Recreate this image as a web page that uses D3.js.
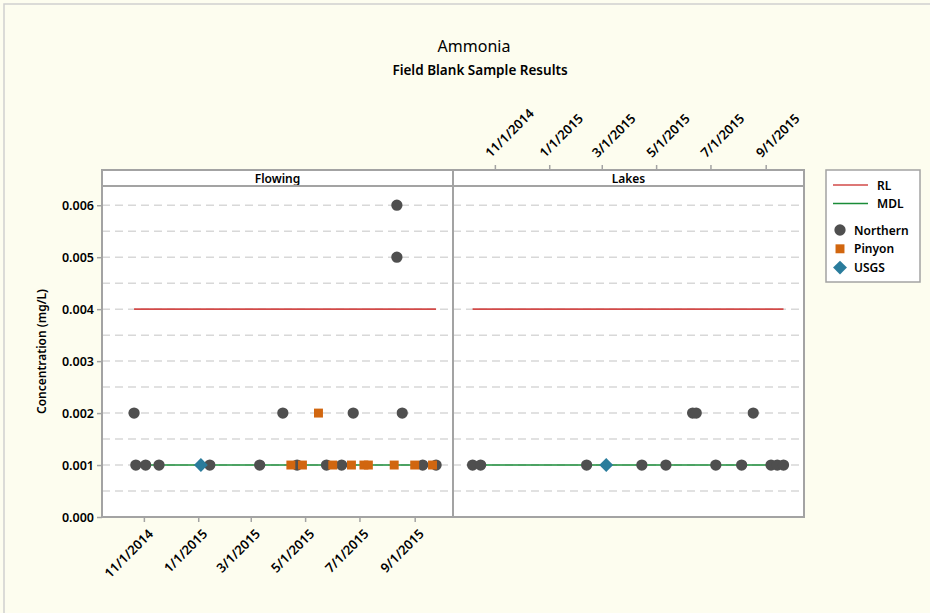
<!DOCTYPE html>
<html>
<head>
<meta charset="utf-8">
<script src="https://cdn.jsdelivr.net/npm/d3@7"></script>
<style>
  body { margin: 0; background: #fdfdef; }
  text { font-family: "Noto Sans", "Open Sans", sans-serif; fill: #000; }
</style>
</head>
<body>
<svg id="chart" width="930" height="613"></svg>
<script>
// ---- data ----
var panels = ["Flowing", "Lakes"];
var xTickLabels = ["11/1/2014", "1/1/2015", "3/1/2015", "5/1/2015", "7/1/2015", "9/1/2015"];
var yTicks = [0, 0.001, 0.002, 0.003, 0.004, 0.005, 0.006];
var rlValue = 0.004;
var mdlValue = 0.001;

// Flowing
var flowingNorthern = [
  ["10/21/2014", 0.002], ["10/23/2014", 0.001], ["11/3/2014", 0.001], ["11/18/2014", 0.001],
  ["1/14/2015", 0.001], ["3/11/2015", 0.001], ["4/6/2015", 0.002], ["4/22/2015", 0.001],
  ["5/25/2015", 0.001], ["6/11/2015", 0.001], ["6/24/2015", 0.002], ["8/12/2015", 0.006],
  ["8/12/2015", 0.005], ["8/18/2015", 0.002], ["9/10/2015", 0.001], ["9/25/2015", 0.001]
];
var flowingPinyon = [
  ["4/15/2015", 0.001], ["4/28/2015", 0.001], ["5/16/2015", 0.002], ["6/1/2015", 0.001],
  ["6/22/2015", 0.001], ["7/6/2015", 0.001], ["7/11/2015", 0.001], ["8/9/2015", 0.001],
  ["9/1/2015", 0.001], ["9/21/2015", 0.001]
];
var flowingUSGS = [["1/4/2015", 0.001]];

// Lakes
var lakesNorthern = [
  ["10/7/2014", 0.001], ["10/16/2014", 0.001], ["2/12/2015", 0.001], ["4/15/2015", 0.001],
  ["5/12/2015", 0.001], ["6/11/2015", 0.002], ["6/15/2015", 0.002], ["7/7/2015", 0.001],
  ["8/5/2015", 0.001], ["8/18/2015", 0.002], ["9/7/2015", 0.001], ["9/14/2015", 0.001],
  ["9/21/2015", 0.001]
];
var lakesPinyon = [];
var lakesUSGS = [["3/6/2015", 0.001]];

var legendLines = [["RL", "#d24a48"], ["MDL", "#1a8c38"]];
var legendSymbols = [["Northern", "circle", "#4f4f4f"], ["Pinyon", "square", "#d1660f"], ["USGS", "diamond", "#2a7c9c"]];

// ---- layout ----
var parse = d3.timeParse("%m/%d/%Y");
var svg = d3.select("#chart");
var panelW = 351, stripTop = 170, stripH = 16, plotTop = 186, plotH = 331;
var panelX = [102, 453];
var frameColor = "#a3a3a3";

// page frame
svg.append("rect").attr("x", 4).attr("y", 4).attr("width", 940).attr("height", 620)
  .attr("fill", "#fdfdef").attr("stroke", "#cfcfcf").attr("stroke-width", 1.5);

svg.append("text").attr("x", 474).attr("y", 52).attr("text-anchor", "middle")
  .style("font-size", "16px").text("Ammonia");
svg.append("text").attr("x", 480).attr("y", 75).attr("text-anchor", "middle")
  .style("font-size", "13.5px").style("font-weight", 600).text("Field Blank Sample Results");

var x = d3.scaleTime()
  .domain([parse("9/15/2014"), parse("10/14/2015")])
  .range([0, panelW]);
var y = d3.scaleLinear().domain([0, 0.00637]).range([plotH, 0]);

var colorOf = {};
legendLines.forEach(function (d) { colorOf[d[0]] = d[1]; });
legendSymbols.forEach(function (d) { colorOf[d[0]] = d[2]; });

// squares are drawn rotated 45 degrees for the diamond
var symbolOf = {
  circle: { path: d3.symbol().type(d3.symbolCircle).size(100), rot: 0 },
  square: { path: d3.symbol().type(d3.symbolSquare).size(80), rot: 0 },
  diamond: { path: d3.symbol().type(d3.symbolSquare).size(96), rot: 45 }
};

var panelData = [
  { name: "Flowing", series: [["Northern", "circle", flowingNorthern], ["Pinyon", "square", flowingPinyon], ["USGS", "diamond", flowingUSGS]] },
  { name: "Lakes", series: [["Northern", "circle", lakesNorthern], ["Pinyon", "square", lakesPinyon], ["USGS", "diamond", lakesUSGS]] }
];

panelData.forEach(function (p, i) {
  var g = svg.append("g").attr("transform", "translate(" + panelX[i] + ",0)");

  // strip
  g.append("rect").attr("x", 0).attr("y", stripTop).attr("width", panelW).attr("height", stripH)
    .attr("fill", "#fff").attr("stroke", frameColor).attr("stroke-width", 2);
  g.append("text").attr("x", panelW / 2).attr("y", stripTop + 12.5).attr("text-anchor", "middle")
    .style("font-size", "12px").style("font-weight", 600).text(p.name);

  var plot = g.append("g").attr("transform", "translate(0," + plotTop + ")");
  plot.append("rect").attr("width", panelW).attr("height", plotH).attr("fill", "#fff");

  // dashed grid every 0.0005
  plot.selectAll(".grid")
    .data(d3.range(1, 13).map(function (k) { return k * 0.0005; }))
    .enter().append("line")
    .attr("x1", 0).attr("x2", panelW)
    .attr("y1", function (d) { return y(d); }).attr("y2", function (d) { return y(d); })
    .attr("stroke", "#d8d8d8").attr("stroke-width", 1.5).attr("stroke-dasharray", "8,5");

  // RL / MDL over the date span of the panel's data
  var all = [];
  p.series.forEach(function (s) { s[2].forEach(function (d) { all.push(parse(d[0])); }); });
  var ext = d3.extent(all);
  [["RL", rlValue], ["MDL", mdlValue]].forEach(function (r) {
    plot.append("line")
      .attr("x1", x(ext[0])).attr("x2", x(ext[1]))
      .attr("y1", y(r[1])).attr("y2", y(r[1]))
      .attr("stroke", colorOf[r[0]]).attr("stroke-width", 1.6);
  });

  p.series.forEach(function (s) {
    var sym = symbolOf[s[1]];
    plot.selectAll(".pt-" + s[0])
      .data(s[2])
      .enter().append("path")
      .attr("d", sym.path)
      .attr("transform", function (d) {
        return "translate(" + x(parse(d[0])) + "," + y(d[1]) + ") rotate(" + sym.rot + ")";
      })
      .attr("fill", colorOf[s[0]]);
  });

  plot.append("rect").attr("width", panelW).attr("height", plotH).attr("fill", "none")
    .attr("stroke", frameColor).attr("stroke-width", 2);

  var tickVals = xTickLabels.map(parse);
  if (i === 0) {
    var bottom = plot.append("g").attr("transform", "translate(0," + plotH + ")")
      .call(d3.axisBottom(x).tickValues(tickVals).tickSize(5).tickFormat(d3.timeFormat("%-m/%-d/%Y")));
    bottom.select(".domain").remove();
    bottom.selectAll("line").attr("stroke", frameColor).attr("stroke-width", 1.5);
    bottom.selectAll("text")
      .attr("text-anchor", "end").attr("dx", 0).attr("dy", 0)
      .attr("transform", "translate(4,12) rotate(-45)")
      .style("font-size", "13px").style("font-weight", 600);

    var left = plot.append("g")
      .call(d3.axisLeft(y).tickValues(yTicks).tickSize(5).tickFormat(d3.format(".3f")));
    left.select(".domain").remove();
    left.selectAll("line").attr("stroke", frameColor).attr("stroke-width", 1.5);
    left.selectAll("text").attr("x", -8).style("font-size", "12.5px").style("font-weight", 600);
  } else {
    var top = g.append("g").attr("transform", "translate(0," + stripTop + ")")
      .call(d3.axisTop(x).tickValues(tickVals).tickSize(5).tickFormat(d3.timeFormat("%-m/%-d/%Y")));
    top.select(".domain").remove();
    top.selectAll("line").attr("stroke", frameColor).attr("stroke-width", 1.5);
    top.selectAll("text")
      .attr("text-anchor", "start").attr("dx", 0).attr("dy", 0)
      .attr("transform", "translate(1,-6) rotate(-45)")
      .style("font-size", "13px").style("font-weight", 600);
  }
  svg.selectAll(".tick text").style("fill", "#000");
});

svg.append("text")
  .attr("transform", "translate(46," + (plotTop + plotH / 2) + ") rotate(-90)")
  .attr("text-anchor", "middle").style("font-size", "12px").style("font-weight", 600)
  .text("Concentration (mg/L)");

// legend
var lg = svg.append("g").attr("transform", "translate(826,170)");
lg.append("rect").attr("width", 94).attr("height", 112).attr("fill", "#fff")
  .attr("stroke", frameColor).attr("stroke-width", 1.5);
legendLines.forEach(function (d, k) {
  var yy = 15 + k * 18.5;
  lg.append("line").attr("x1", 7).attr("x2", 42).attr("y1", yy).attr("y2", yy)
    .attr("stroke", d[1]).attr("stroke-width", 1.6);
  lg.append("text").attr("x", 51).attr("y", yy + 4.5).style("font-size", "12px")
    .style("font-weight", 600).text(d[0]);
});
legendSymbols.forEach(function (d, k) {
  var yy = 60 + k * 18.8;
  var sym = symbolOf[d[1]];
  lg.append("path").attr("d", sym.path).attr("fill", d[2])
    .attr("transform", "translate(14," + yy + ") rotate(" + sym.rot + ")");
  lg.append("text").attr("x", 28).attr("y", yy + 4.5).style("font-size", "12px")
    .style("font-weight", 600).text(d[0]);
});
</script>
</body>
</html>
